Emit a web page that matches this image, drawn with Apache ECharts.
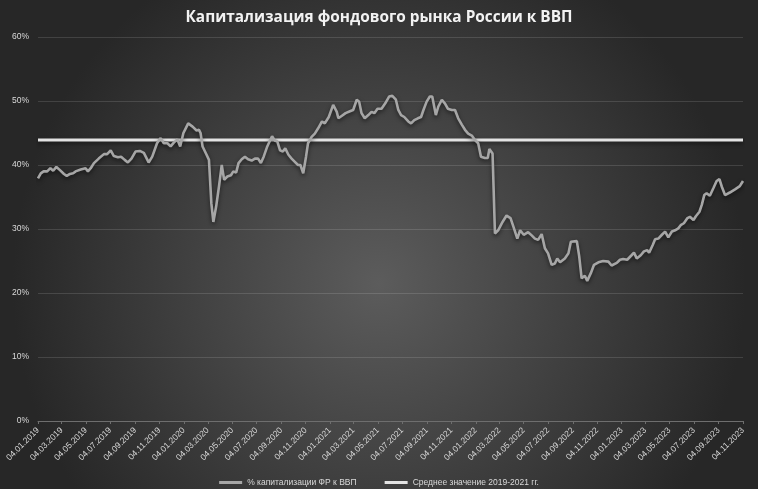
<!DOCTYPE html>
<html>
<head>
<meta charset="utf-8">
<script src="https://cdn.jsdelivr.net/npm/echarts@6/dist/echarts.min.js"></script>
<style>html,body{margin:0;padding:0;background:#333;}#c{width:758px;height:489px;}</style>
</head>
<body>
<div id="c"></div>
<script>
const titleText = 'Капитализация фондового рынка России к ВВП';
const seriesNames = ['% капитализации ФР к ВВП', 'Среднее значение 2019-2021 гг.'];
const tickLabels = ['04.01.2019','04.03.2019','04.05.2019','04.07.2019','04.09.2019','04.11.2019',
  '04.01.2020','04.03.2020','04.05.2020','04.07.2020','04.09.2020','04.11.2020',
  '04.01.2021','04.03.2021','04.05.2021','04.07.2021','04.09.2021','04.11.2021',
  '04.01.2022','04.03.2022','04.05.2022','04.07.2022','04.09.2022','04.11.2022',
  '04.01.2023','04.03.2023','04.05.2023','04.07.2023','04.09.2023','04.11.2023'];
const yTicks = [0, 10, 20, 30, 40, 50, 60];

const dates = [
  // 2019
  '2019-01-04','2019-01-11','2019-01-18','2019-01-27','2019-02-04','2019-02-11','2019-02-19','2019-02-28',
  '2019-03-10','2019-03-17','2019-03-25','2019-04-02','2019-04-08','2019-04-21','2019-05-03','2019-05-09',
  '2019-05-16','2019-05-24','2019-06-05','2019-06-18','2019-06-26','2019-07-05','2019-07-13','2019-07-23',
  '2019-07-31','2019-08-09','2019-08-17','2019-08-26','2019-09-05','2019-09-16','2019-09-26','2019-10-08',
  '2019-10-17','2019-10-29','2019-11-07','2019-11-15','2019-11-24','2019-12-02','2019-12-10','2019-12-19',
  '2019-12-26','2020-01-03',
  // 2020
  '2020-01-07','2020-01-15','2020-01-26','2020-02-05','2020-02-11','2020-02-15','2020-02-20','2020-03-01',
  '2020-03-07','2020-03-13','2020-03-18','2020-03-25','2020-04-01','2020-04-08','2020-04-14','2020-04-22',
  '2020-05-01','2020-05-07','2020-05-14','2020-05-20','2020-05-28','2020-06-05','2020-06-13','2020-06-22',
  '2020-06-30','2020-07-08','2020-07-15','2020-07-22','2020-07-31','2020-08-06','2020-08-12','2020-08-19',
  '2020-08-25','2020-09-01','2020-09-08','2020-09-14','2020-09-22','2020-09-30','2020-10-08','2020-10-16',
  '2020-10-22','2020-10-29','2020-11-05','2020-11-10','2020-11-19','2020-11-27','2020-12-05','2020-12-15',
  '2020-12-22','2021-01-01',
  // 2021
  '2021-01-12','2021-01-21','2021-01-25','2021-02-03','2021-02-12','2021-02-23','2021-03-03','2021-03-12',
  '2021-03-18','2021-03-24','2021-04-01','2021-04-10','2021-04-18','2021-04-25','2021-05-03','2021-05-13',
  '2021-05-22','2021-06-01','2021-06-09','2021-06-18','2021-06-24','2021-07-01','2021-07-09','2021-07-19',
  '2021-07-26','2021-08-03','2021-08-12','2021-08-20','2021-08-26','2021-09-03','2021-09-11','2021-09-17',
  '2021-09-26','2021-10-02','2021-10-11','2021-10-19','2021-10-26','2021-11-05','2021-11-13','2021-11-21',
  '2021-11-30','2021-12-08','2021-12-16','2021-12-25','2022-01-02',
  // 2022
  '2022-01-10','2022-01-17','2022-01-27','2022-02-03','2022-02-07','2022-02-15','2022-02-21','2022-03-01',
  '2022-03-12','2022-03-22','2022-04-01','2022-04-08','2022-04-18','2022-04-25','2022-05-04','2022-05-15',
  '2022-05-24','2022-06-01','2022-06-09','2022-06-18','2022-06-26','2022-07-04','2022-07-13','2022-07-21',
  '2022-07-27','2022-08-03','2022-08-15','2022-08-24','2022-08-30','2022-09-14','2022-09-20','2022-09-26',
  '2022-10-04','2022-10-10','2022-10-19','2022-10-27','2022-11-07','2022-11-19','2022-12-02','2022-12-10',
  '2022-12-23','2022-12-31',
  // 2023
  '2023-01-08','2023-01-18','2023-01-29','2023-02-04','2023-02-11','2023-02-21','2023-03-01','2023-03-09',
  '2023-03-14','2023-03-23','2023-03-29','2023-04-06','2023-04-15','2023-04-23','2023-05-01','2023-05-10',
  '2023-05-18','2023-05-26','2023-06-01','2023-06-09','2023-06-18','2023-06-24','2023-07-03','2023-07-09',
  '2023-07-18','2023-07-24','2023-07-30','2023-08-05','2023-08-13','2023-08-22','2023-08-30','2023-09-06',
  '2023-09-12','2023-09-20','2023-10-02','2023-10-15','2023-10-27','2023-11-04'
];

const capToGdp = [
  // 2019
  37.9,38.7,39.0,39.0,39.5,39.1,39.7,39.2,
  38.6,38.3,38.6,38.7,39.0,39.3,39.5,39.0,
  39.5,40.3,41.0,41.7,41.7,42.3,41.4,41.2,
  41.3,40.8,40.4,41.0,42.1,42.2,41.9,40.4,
  41.3,43.4,44.2,43.4,43.4,42.9,43.5,44.0,
  42.9,45.0,
  // 2020
  45.5,46.5,46.0,45.4,45.5,45.0,42.9,41.6,
  40.8,34.0,31.1,33.5,36.6,40.0,37.7,38.2,
  38.4,39.0,38.8,40.3,40.9,41.3,40.9,40.7,
  41.0,41.0,40.3,41.3,42.9,43.7,44.5,43.8,
  43.7,42.3,42.1,42.6,41.6,41.0,40.5,40.0,
  40.0,38.7,41.3,43.4,44.4,44.9,45.7,46.8,
  46.5,47.5,
  // 2021
  49.4,48.3,47.3,47.7,48.1,48.4,48.6,50.2,
  49.9,48.1,47.3,47.8,48.3,48.1,48.8,48.8,
  49.6,50.7,50.8,50.2,48.6,47.8,47.5,46.8,
  46.5,47.0,47.3,47.5,48.6,49.9,50.7,50.7,
  47.8,49.1,50.2,49.6,48.8,48.6,48.6,47.3,
  46.3,45.5,44.9,44.6,43.9,
  // 2022
  43.4,41.3,41.1,41.1,42.5,41.8,29.3,29.8,
  31.1,32.1,31.7,30.4,28.5,29.8,29.1,29.5,
  29.0,28.5,28.3,29.2,27.0,26.2,24.4,24.6,
  25.4,24.8,25.4,26.2,28.0,28.1,25.7,22.3,
  22.7,21.9,23.1,24.4,24.8,25.0,24.9,24.3,
  24.7,25.2,
  // 2023
  25.3,25.2,25.9,26.3,25.4,25.9,26.5,26.7,
  26.3,27.5,28.4,28.5,29.1,29.6,28.7,29.6,
  29.8,30.1,30.6,30.9,31.7,31.9,31.4,32.0,
  32.7,33.8,35.3,35.6,35.2,36.4,37.5,37.8,
  36.6,35.3,35.7,36.2,36.7,37.5
];

const averageValue = 43.9;

function parseLabel(s) {
  const p = s.split('.');
  return new Date(+p[2], +p[1] - 1, +p[0]).getTime();
}
function parseIso(s) {
  const p = s.split('-');
  return new Date(+p[0], +p[1] - 1, +p[2]).getTime();
}
function pad(n) { return (n < 10 ? '0' : '') + n; }

const tickValues = tickLabels.map(parseLabel);
const xMin = tickValues[0];
const xMax = tickValues[tickValues.length - 1];

const mainData = dates.map((d, i) => [parseIso(d), capToGdp[i]]);
const avgData = [[xMin, averageValue], [xMax, averageValue]];

const chart = echarts.init(document.getElementById('c'), null, {renderer: 'canvas'});
const labelColor = '#d9d9d9';
chart.setOption({
  animation: false,
  backgroundColor: {
    type: 'radial', x: 0.5, y: 0.58, r: 0.75,
    colorStops: [{offset: 0, color: '#5c5c5c'}, {offset: 1, color: '#272727'}]
  },
  title: {
    text: titleText, left: 'center', top: 5,
    textStyle: {color: '#f2f2f2', fontSize: 15.4, fontWeight: 'bold', fontFamily: 'Open Sans'}
  },
  legend: {
    bottom: -3, left: 'center', itemGap: 28,
    icon: 'rect', itemWidth: 23, itemHeight: 3,
    textStyle: {color: labelColor, fontSize: 8.5, fontFamily: 'Liberation Sans'},
    data: seriesNames
  },
  grid: {left: 38, right: 15, top: 37, bottom: 68},
  xAxis: {
    type: 'value', min: xMin, max: xMax,
    axisLine: {lineStyle: {color: '#6e6e6e', width: 1}},
    axisTick: {show: true, length: 3, lineStyle: {color: '#6e6e6e'}, customValues: tickValues},
    splitLine: {show: false},
    axisLabel: {
      customValues: tickValues, rotate: 45, color: labelColor, fontSize: 8.5, margin: 8,
      fontFamily: 'Liberation Sans',
      formatter: function (v) {
        const d = new Date(v);
        return pad(d.getDate()) + '.' + pad(d.getMonth() + 1) + '.' + d.getFullYear();
      }
    }
  },
  yAxis: {
    type: 'value', min: yTicks[0], max: yTicks[yTicks.length - 1], interval: 10,
    axisLine: {show: false}, axisTick: {show: false},
    splitLine: {lineStyle: {color: 'rgba(255,255,255,0.13)', width: 1}},
    axisLabel: {color: labelColor, fontSize: 8.5, margin: 9, fontFamily: 'Liberation Sans', formatter: '{value}%'}
  },
  series: [
    {
      name: seriesNames[0], type: 'line', data: mainData, showSymbol: false,
      itemStyle: {color: '#a6a6a6'},
      lineStyle: {color: '#a6a6a6', width: 2.6, shadowColor: 'rgba(0,0,0,0.55)', shadowBlur: 4, shadowOffsetY: 2},
      z: 3
    },
    {
      name: seriesNames[1], type: 'line', data: avgData, showSymbol: false,
      itemStyle: {color: '#e3e3e3'},
      lineStyle: {color: '#e3e3e3', width: 3, shadowColor: 'rgba(0,0,0,0.5)', shadowBlur: 4, shadowOffsetY: 2},
      z: 2
    }
  ]
});
</script>
</body>
</html>
